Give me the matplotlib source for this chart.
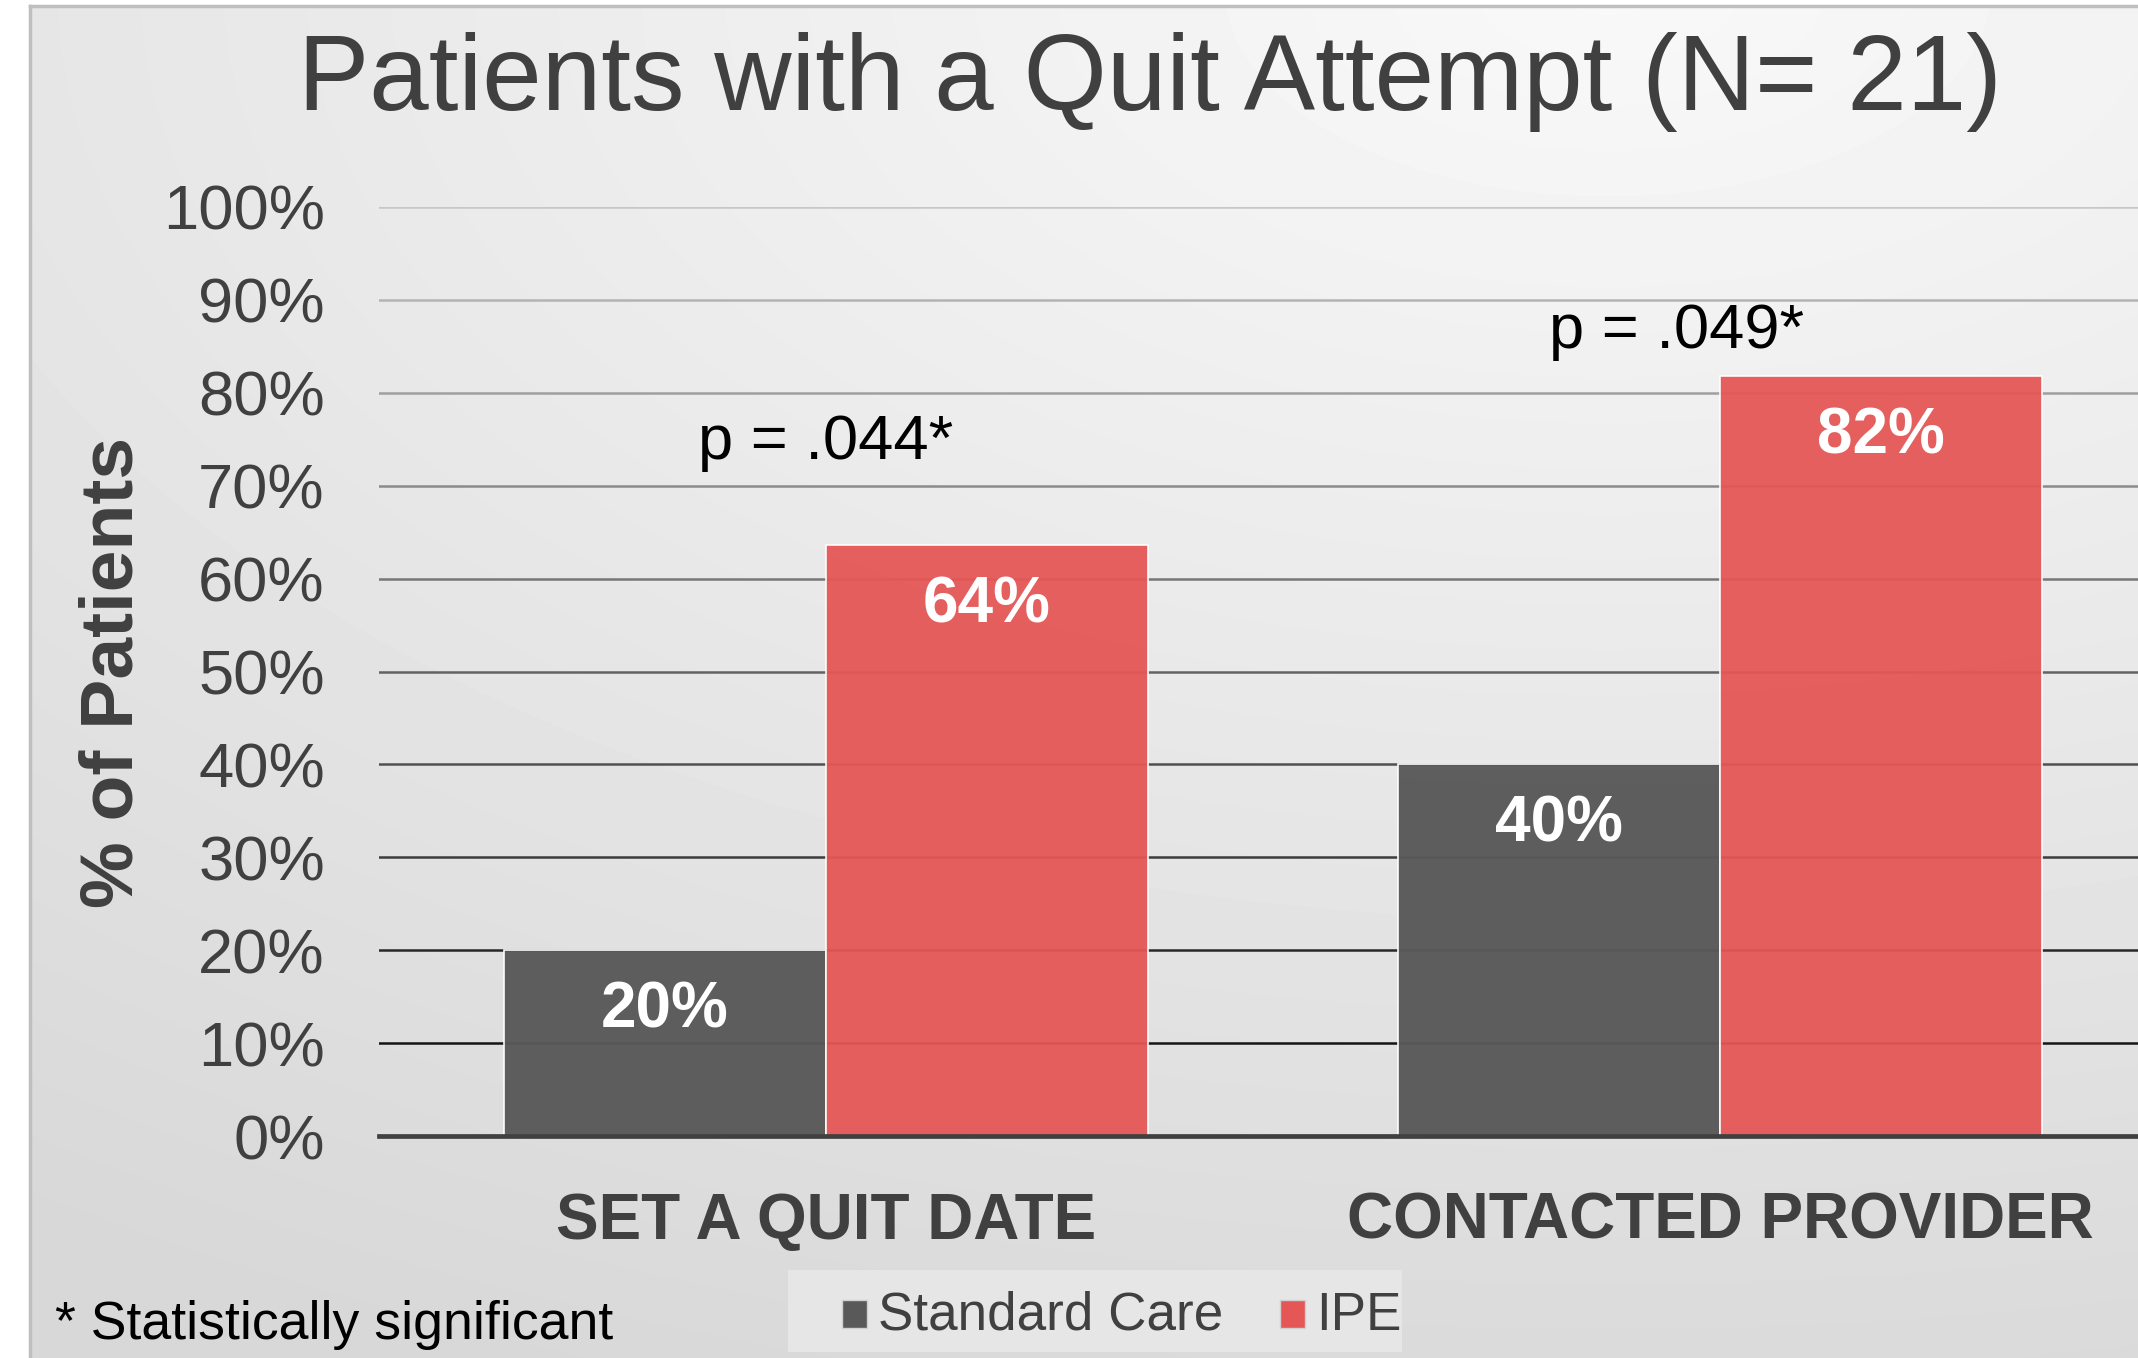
import numpy as np
import matplotlib
matplotlib.use("Agg")
import matplotlib.pyplot as plt
from matplotlib.patches import Rectangle
from matplotlib import font_manager

# data
categories = ["SET A QUIT DATE", "CONTACTED PROVIDER"]
series_names = ["Standard Care", "IPE"]
standard_care = [20.0, 40.0]
ipe = [63.6, 81.8]
p_labels = ["p = .044*", "p = .049*"]
yticks = [0, 10, 20, 30, 40, 50, 60, 70, 80, 90, 100]

SC_COLOR = "#595959"
IPE_COLOR = "#E55757"
TEXT = "#404040"

names = {f.name for f in font_manager.fontManager.ttflist}
SANS = "Liberation Sans" if "Liberation Sans" in names else "DejaVu Sans"
NARROW = "Liberation Sans Narrow" if "Liberation Sans Narrow" in names else SANS
narrow_scale = 1.0 if NARROW != SANS else 0.83
plt.rcParams["font.family"] = SANS

W, H = 2138, 1358
fig = plt.figure(figsize=(W / 100, H / 100), dpi=100)
fig.patch.set_facecolor("white")

# background gradient panel with thin border
bg = fig.add_axes([0, 0, 1, 1], zorder=-10)
bg.set_xlim(0, W)
bg.set_ylim(H, 0)
bg.axis("off")
yy, xx = np.mgrid[0:H:4, 0:W:4]
d = np.sqrt(((xx - 1600) / 2600.0) ** 2 + ((yy + 20) / 1400.0) ** 2)
shade = np.clip(0.975 - 0.12 * d, 0.845, 0.975)
x0, y0 = 30, 6
bg.imshow(shade, cmap="gray", vmin=0, vmax=1, extent=[x0, W, H, y0],
          interpolation="bilinear", aspect="auto")
bg.plot([x0, x0], [H, y0], color="#bfbfbf", lw=2.5)
bg.plot([x0, W], [y0, y0], color="#bfbfbf", lw=2.5)

# main plot: axis extends slightly beyond the right edge
ax_left, ax_right = 379 / W, 2167 / W
ax_bottom, ax_top = 1 - 1136 / H, 1 - 207 / H
ax = fig.add_axes([ax_left, ax_bottom, ax_right - ax_left, ax_top - ax_bottom])
ax.patch.set_alpha(0)
ax.set_xlim(-0.5, 1.5)
ax.set_ylim(0, 100)

# gridlines get darker toward the bottom
for t in yticks[1:]:
    g = 0.0 + 0.78 * (t / 100.0)
    ax.axhline(t, color=(g, g, g), lw=1.8, zorder=0)
ax.axhline(0, color=TEXT, lw=3.4, zorder=5, clip_on=False)

x = np.arange(len(categories))
bw = 0.36
b1 = ax.bar(x - bw / 2, standard_care, bw, color=SC_COLOR, alpha=0.97,
            edgecolor=(1, 1, 1, 0.5), lw=1.2, zorder=2, label=series_names[0])
b2 = ax.bar(x + bw / 2, ipe, bw, color=IPE_COLOR, alpha=0.95,
            edgecolor=(1, 1, 1, 0.5), lw=1.2, zorder=2, label=series_names[1])

for bars, vals in [(b1, standard_care), (b2, ipe)]:
    for b, v in zip(bars, vals):
        ax.text(b.get_x() + b.get_width() / 2, v - 6.5, f"{v:.0f}%",
                ha="center", va="center", color="white", fontsize=46,
                fontweight="bold", zorder=6)

# p-value notes above each pair
p_dx = [0.0, -0.049]
p_dy = [11.1, 4.8]
for i, lab in enumerate(p_labels):
    ax.text(x[i] + p_dx[i], ipe[i] + p_dy[i], lab,
            ha="center", va="center", color="black", fontsize=45.5, zorder=6)

ax.set_yticks(yticks)
ax.set_yticklabels([f"{t}%" for t in yticks], fontsize=45.5, color=TEXT)
ax.set_xticks(x)
ax.set_xticklabels(categories, fontsize=46, fontweight="bold", color=TEXT)
ax.tick_params(axis="both", length=0)
ax.tick_params(axis="y", pad=39)
ax.tick_params(axis="x", pad=40)
for s in ax.spines.values():
    s.set_visible(False)

fig.text(113 / W, 1 - 672 / H, "% of Patients", rotation=90, ha="center",
         va="center", fontsize=54, fontweight="bold", color=TEXT)
fig.text(1150 / W, 1 - 82 / H, "Patients with a Quit Attempt (N= 21)",
         ha="center", va="center", fontsize=77, color=TEXT)
fig.text(55 / W, 1 - 1325 / H, "* Statistically significant", ha="left",
         va="center", fontsize=46.5 * narrow_scale, color="black", family=NARROW)

# legend box
bg.add_patch(Rectangle((788, 1270), 614, 82, facecolor="#e6e6e6",
                       edgecolor="none", zorder=1))
leg_items = [(842, SC_COLOR, series_names[0]), (1280, IPE_COLOR, series_names[1])]
for lx, col, name in leg_items:
    bg.add_patch(Rectangle((lx, 1300), 25, 28, facecolor=col,
                           edgecolor="#d0d0d0", lw=1, zorder=2))
    bg.text(lx + 36, 1316, name, ha="left", va="center", fontsize=46 * narrow_scale,
            color=TEXT, family=NARROW, zorder=3)

fig.savefig("out.png", dpi=100)
